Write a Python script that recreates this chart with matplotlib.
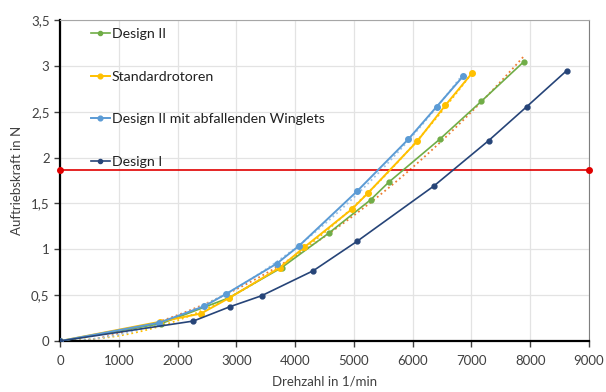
import numpy as np
import matplotlib
matplotlib.use("Agg")
import matplotlib.pyplot as plt

plt.rcParams['font.family'] = ['Lato', 'DejaVu Sans']

x_d2 = [0, 1720, 2870, 3770, 4580, 5285, 5590, 6460, 7170, 7890]
y_d2 = [0, 0.19, 0.47, 0.80, 1.18, 1.54, 1.73, 2.20, 2.615, 3.045]

x_std = [0, 1700, 2400, 2880, 3740, 4150, 4970, 5234, 6080, 6556, 7015]
y_std = [0, 0.21, 0.30, 0.47, 0.80, 1.02, 1.44, 1.61, 2.18, 2.57, 2.925]

x_wl = [0, 1690, 2455, 2830, 3690, 4070, 5058, 5926, 6408, 6862]
y_wl = [0, 0.20, 0.38, 0.515, 0.845, 1.04, 1.636, 2.20, 2.555, 2.89]

x_d1 = [0, 2270, 2890, 3430, 4310, 5060, 6360, 7290, 7940, 8620]
y_d1 = [0, 0.218, 0.374, 0.494, 0.767, 1.09, 1.69, 2.184, 2.555, 2.948]

x_ref = [0, 9000]
y_ref = [1.86, 1.86]

labels = ['Design II', 'Standardrotoren', 'Design II mit abfallenden Winglets', 'Design I']

fig = plt.figure(figsize=(6.06, 3.92), dpi=100)
ax = fig.add_axes([0.099, 0.130, 0.873, 0.819])

# Trendlinien (Polynom 2. Grades)
for xs, ys, c in [(x_d2, y_d2, '#ED7D31'), (x_std, y_std, '#FFC000'), (x_wl, y_wl, '#9DC3E6')]:
    p = np.polyfit(xs, ys, 2)
    xx = np.linspace(0, xs[-1], 100)
    ax.plot(xx, np.polyval(p, xx), ls=':', lw=1.3, color=c, zorder=2)

ax.plot(x_ref, y_ref, color='#E00000', lw=1.2, marker='o', ms=4, zorder=3, clip_on=False)

ax.plot(x_d2, y_d2, color='#70AD47', lw=1.2, marker='o', ms=3.5, label=labels[0], zorder=4)
ax.plot(x_std, y_std, color='#FFC000', lw=1.4, marker='o', ms=4, label=labels[1], zorder=4)
ax.plot(x_wl, y_wl, color='#5B9BD5', lw=1.4, marker='o', ms=4, label=labels[2], zorder=4)
ax.plot(x_d1, y_d1, color='#264478', lw=1.2, marker='o', ms=3.5, label=labels[3], zorder=4)

ax.set_xlim(0, 9000)
ax.set_ylim(0, 3.5)
ax.set_xticks(np.arange(0, 9001, 1000))
ax.set_yticks(np.arange(0, 3.51, 0.5))
ax.set_yticklabels(['0', '0,5', '1', '1,5', '2', '2,5', '3', '3,5'])
ax.grid(True, color='#E3E3E3', lw=0.9)
ax.set_axisbelow(True)

ax.spines['left'].set_color('black')
ax.spines['left'].set_linewidth(1.6)
ax.spines['bottom'].set_color('black')
ax.spines['bottom'].set_linewidth(1.6)
ax.spines['top'].set_color('#A6A6A6')
ax.spines['right'].set_color('#7F7F7F')
ax.tick_params(axis='both', labelsize=9.5, colors='#404040', length=4, width=1)
ax.tick_params(axis='x', pad=6)

ax.set_xlabel('Drehzahl in 1/min', fontsize=9.5, color='#404040', labelpad=6)
ax.set_ylabel('Auftriebskraft in N', fontsize=9.5, color='#404040', labelpad=6)

leg = ax.legend(loc='upper left', bbox_to_anchor=(0.035, 1.015), frameon=False,
                fontsize=10.2, labelspacing=2.17, handlelength=1.3, handletextpad=0.15,
                markerscale=0.85)
for t in leg.get_texts():
    t.set_color('#202020')

fig.savefig('out.png', dpi=100)
